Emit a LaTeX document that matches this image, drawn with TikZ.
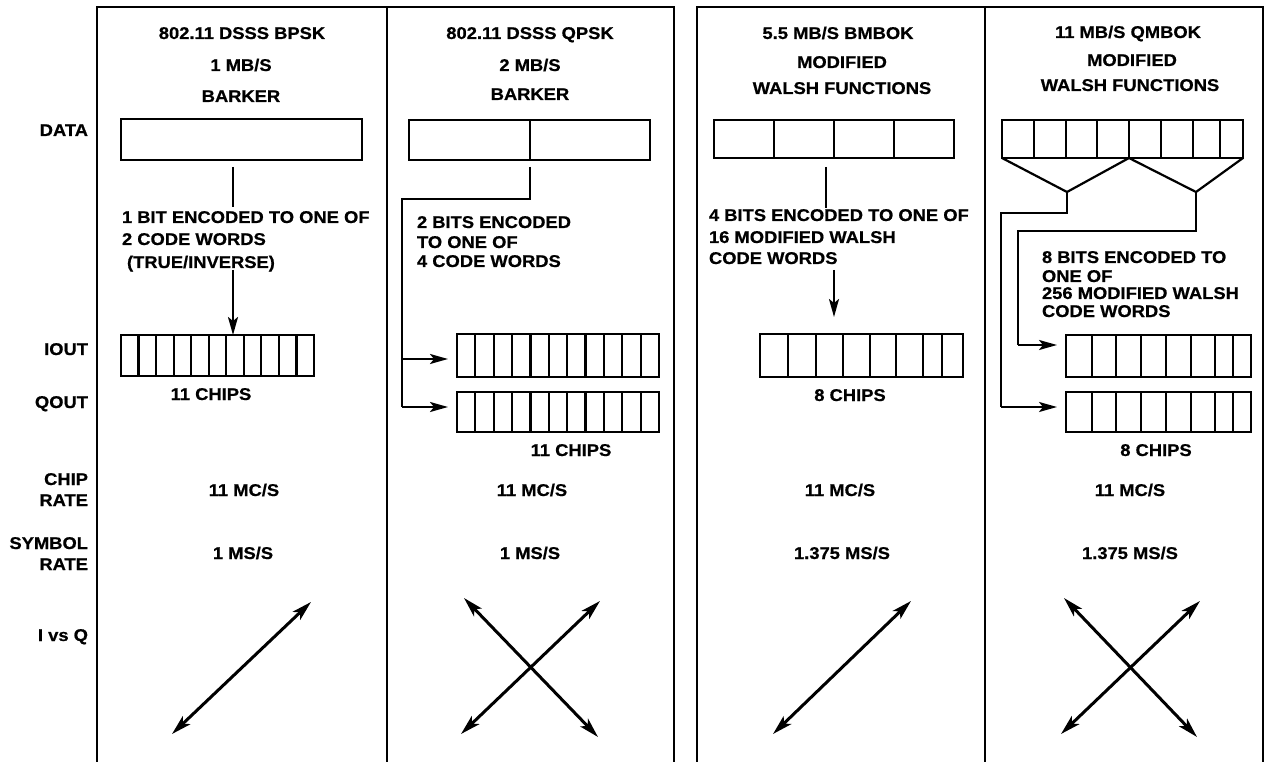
\documentclass[tikz,border=0pt]{standalone}
\usepackage{fontspec}
\setmainfont{Liberation Sans}[FakeStretch=1.08, BoldFeatures={FakeBold=0.6}]
\usetikzlibrary{arrows.meta}
\begin{document}
\begin{tikzpicture}[x=1pt,y=-1pt,
  lab/.style={font=\bfseries\fontsize{17}{20}\selectfont, inner sep=0pt, outer sep=0pt},
  frame/.style={line width=2pt},
  bx/.style={draw, line width=2.6pt, inner sep=0pt, outer sep=0pt, anchor=north west},
  cell/.style={line width=2.2pt},
  conn/.style={line width=2.2pt},
  arr/.style={line width=2.2pt, -{Stealth[length=18pt,width=10pt,inset=4pt]}},
  iq/.style={line width=3pt, {Stealth[length=20pt,width=11pt,inset=5pt]}-{Stealth[length=20pt,width=11pt,inset=5pt]}}
]
\useasboundingbox (0,0) rectangle (1270,762);
\fill[white] (0,0) rectangle (1270,762);

% frames
\draw[frame] (97,762) -- (97,7) -- (674,7) -- (674,762);
\draw[frame] (387,7) -- (387,762);
\draw[frame] (697,762) -- (697,7) -- (1263,7) -- (1263,762);
\draw[frame] (985,7) -- (985,762);

% row labels
\node[lab, anchor=base east] (lData) at (88,136) {DATA};
\node[lab, anchor=base east] (lIout) at (88,355) {IOUT};
\node[lab, anchor=base east] (lQout) at (88,408) {QOUT};
\node[lab, anchor=base east] (lChip) at (88,485) {CHIP};
\node[lab, anchor=base east] (lChipR) at (88,506) {RATE};
\node[lab, anchor=base east] (lSym) at (88,549) {SYMBOL};
\node[lab, anchor=base east] (lSymR) at (88,570) {RATE};
\node[lab, anchor=base east] (lIQ) at (88,641) {I vs Q};

% headers
\node[lab, anchor=base] (h1a) at (242,39) {802.11 DSSS BPSK};
\node[lab, anchor=base] (h1b) at (241,71) {1 MB/S};
\node[lab, anchor=base] (h1c) at (241,102) {BARKER};
\node[lab, anchor=base] (h2a) at (530,39) {802.11 DSSS QPSK};
\node[lab, anchor=base] (h2b) at (530,71) {2 MB/S};
\node[lab, anchor=base] (h2c) at (530,100) {BARKER};
\node[lab, anchor=base] (h3a) at (838,39) {5.5 MB/S BMBOK};
\node[lab, anchor=base] (h3b) at (842,68) {MODIFIED};
\node[lab, anchor=base] (h3c) at (842,94) {WALSH FUNCTIONS};
\node[lab, anchor=base] (h4a) at (1128,38) {11 MB/S QMBOK};
\node[lab, anchor=base] (h4b) at (1132,66) {MODIFIED};
\node[lab, anchor=base] (h4c) at (1130,91) {WALSH FUNCTIONS};

% data boxes
\node[bx, minimum width=241pt, minimum height=41pt] (d1) at (121,119) {};
\node[bx, minimum width=241pt, minimum height=40pt] (d2) at (409,120) {};
\draw[cell] (530,120) -- (530,160);
\node[bx, minimum width=240pt, minimum height=38pt] (d3) at (714,120) {};
\foreach \x in {774,834,894} \draw[cell] (\x,120) -- (\x,158);
\node[bx, minimum width=241pt, minimum height=38pt] (d4) at (1002,120) {};
\foreach \x in {1034,1066,1097,1129,1161,1193,1220} \draw[cell] (\x,120) -- (\x,158);

% chip boxes
\node[bx, minimum width=193pt, minimum height=41pt] (c1) at (121,335) {};
\foreach \i in {1,...,10} \draw[cell] ({121+\i*193/11},335) -- ({121+\i*193/11},376);
\node[bx, minimum width=202pt, minimum height=43pt] (c2a) at (457,334) {};
\foreach \i in {1,...,10} \draw[cell] ({457+\i*202/11},334) -- ({457+\i*202/11},377);
\node[bx, minimum width=202pt, minimum height=40pt] (c2b) at (457,392) {};
\foreach \i in {1,...,10} \draw[cell] ({457+\i*202/11},392) -- ({457+\i*202/11},432);
\node[bx, minimum width=203pt, minimum height=43pt] (c3) at (760,334) {};
\foreach \x in {788,816,843,870,896,923,942} \draw[cell] (\x,334) -- (\x,377);
\node[bx, minimum width=185pt, minimum height=42pt] (c4a) at (1066,335) {};
\foreach \x in {1092,1116,1141,1166,1191,1215,1233} \draw[cell] (\x,335) -- (\x,377);
\node[bx, minimum width=185pt, minimum height=40pt] (c4b) at (1066,392) {};
\foreach \x in {1092,1116,1141,1166,1191,1215,1233} \draw[cell] (\x,392) -- (\x,432);

% chip labels
\node[lab, anchor=base] (n1) at (211,400) {11 CHIPS};
\node[lab, anchor=base] (n2) at (571,456) {11 CHIPS};
\node[lab, anchor=base] (n3) at (850,401) {8 CHIPS};
\node[lab, anchor=base] (n4) at (1156,456) {8 CHIPS};

% encoding texts
\node[lab, anchor=base west] (t1a) at (122,223) {1 BIT ENCODED TO ONE OF};
\node[lab, anchor=base west] (t1b) at (122,245) {2 CODE WORDS};
\node[lab, anchor=base west] (t1c) at (127,268) {(TRUE/INVERSE)};
\node[lab, anchor=base west] (t2a) at (417,228) {2 BITS ENCODED};
\node[lab, anchor=base west] (t2b) at (417,248) {TO ONE OF};
\node[lab, anchor=base west] (t2c) at (417,267) {4 CODE WORDS};
\node[lab, anchor=base west] (t3a) at (709,221) {4 BITS ENCODED TO ONE OF};
\node[lab, anchor=base west] (t3b) at (709,243) {16 MODIFIED WALSH};
\node[lab, anchor=base west] (t3c) at (709,264) {CODE WORDS};
\node[lab, anchor=base west] (t4a) at (1042,263) {8 BITS ENCODED TO};
\node[lab, anchor=base west] (t4b) at (1042,282) {ONE OF};
\node[lab, anchor=base west] (t4c) at (1042,299) {256 MODIFIED WALSH};
\node[lab, anchor=base west] (t4d) at (1042,317) {CODE WORDS};

% rates
\node[lab, anchor=base] (r1a) at (244,496) {11 MC/S};
\node[lab, anchor=base] (r2a) at (532,496) {11 MC/S};
\node[lab, anchor=base] (r3a) at (840,496) {11 MC/S};
\node[lab, anchor=base] (r4a) at (1130,496) {11 MC/S};
\node[lab, anchor=base] (r1b) at (243,559) {1 MS/S};
\node[lab, anchor=base] (r2b) at (530,559) {1 MS/S};
\node[lab, anchor=base] (r3b) at (842,559) {1.375 MS/S};
\node[lab, anchor=base] (r4b) at (1130,559) {1.375 MS/S};

% connectors panel 1
\coordinate (p1a) at (233,167);
\coordinate (p1b) at (233,207);
\coordinate (p1c) at (233,270);
\draw[conn] (p1a) -- (p1b);
\draw[arr] (p1c) -- (c1.north -| p1c);

% panel 2
\coordinate (p2a) at (530,167);
\coordinate (p2b) at (402,199);
\coordinate (p2i) at (402,359);
\coordinate (p2q) at (402,407);
\draw[conn] (p2a) |- (p2b) -- (p2q);
\draw[arr, shorten >=9pt] (p2i) -- (p2i -| c2a.west);
\draw[arr, shorten >=9pt] (p2q) -- (p2q -| c2b.west);

% panel 3
\coordinate (p3a) at (826,167);
\coordinate (p3b) at (826,208);
\coordinate (p3c) at (834,270);
\coordinate (p3d) at (834,317);
\draw[conn] (p3a) -- (p3b);
\draw[arr] (p3c) -- (p3d);

% panel 4
\coordinate (v1) at (1067,192);
\coordinate (v2) at (1196,192);
\coordinate (vm) at (1129,158);
\draw[conn, line join=miter] (d4.south west) -- (v1) -- (vm) -- (v2) -- (d4.south east);
\coordinate (p4q) at (1001,407);
\coordinate (p4i) at (1018,345);
\draw[conn] (v1) -- (1067,213) -- (1001,213) -- (p4q);
\draw[arr, shorten >=9pt] (p4q) -- (p4q -| c4b.west);
\draw[conn] (v2) -- (1196,231) -- (1018,231) -- (p4i);
\draw[arr, shorten >=9pt] (p4i) -- (p4i -| c4a.west);

% I vs Q
\coordinate (a1) at (172,734); \coordinate (a2) at (311,602);
\draw[iq] (a1) -- (a2);
\coordinate (b1) at (461,734); \coordinate (b2) at (600,601);
\coordinate (b3) at (464,598); \coordinate (b4) at (598,737);
\draw[iq] (b1) -- (b2);
\draw[iq] (b3) -- (b4);
\coordinate (e1) at (773,734); \coordinate (e2) at (911,601);
\draw[iq] (e1) -- (e2);
\coordinate (f1) at (1061,734); \coordinate (f2) at (1200,601);
\coordinate (f3) at (1064,598); \coordinate (f4) at (1197,737);
\draw[iq] (f1) -- (f2);
\draw[iq] (f3) -- (f4);
\end{tikzpicture}
\end{document}
